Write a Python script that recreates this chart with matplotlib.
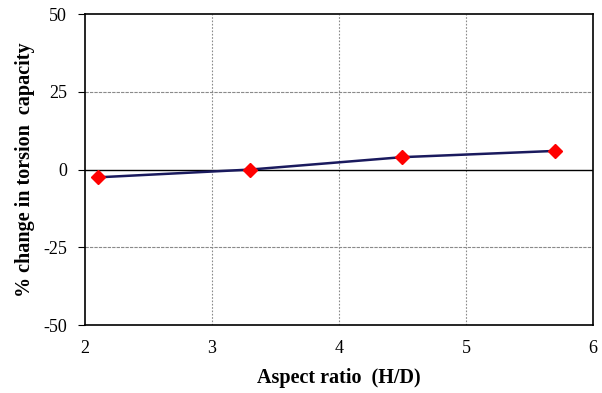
import matplotlib
matplotlib.use("Agg")
import matplotlib.pyplot as plt

aspect_ratio = [2.1, 3.3, 4.5, 5.7]
pct_change = [-2.5, 0.0, 4.0, 6.0]
x_ticks = [2, 3, 4, 5, 6]
y_ticks = [-50, -25, 0, 25, 50]

plt.rcParams["font.family"] = ["Liberation Serif", "DejaVu Serif"]
plt.rcParams["axes.unicode_minus"] = False

fig = plt.figure(figsize=(6.02, 3.93), dpi=100)
ax = fig.add_axes([0.141, 0.173, 0.844, 0.791])

ax.set_xlim(2, 6)
ax.set_ylim(-50, 50)
ax.set_xticks(x_ticks)
ax.set_yticks(y_ticks)

# grid lines
for xv in [3, 4, 5]:
    ax.axvline(xv, color="#8a8a8a", lw=0.8, ls=(0, (1.5, 1.5)), zorder=1)
for yv in [25, -25]:
    ax.axhline(yv, color="#8a8a8a", lw=0.8, ls=(0, (3, 1)), zorder=1)
ax.axhline(0, color="black", lw=1.0, zorder=2)

ax.plot(aspect_ratio, pct_change, color="#1a1a5e", lw=1.8, zorder=3)
ax.plot(aspect_ratio, pct_change, ls="none", marker="D", ms=7,
        color="red", mec="red", zorder=4)

for s in ax.spines.values():
    s.set_linewidth(1.2)
    s.set_color("black")

ax.tick_params(axis="y", length=5, width=0.8, labelsize=13, pad=8)
ax.tick_params(axis="x", length=0, labelsize=13, pad=11)

ax.set_xlabel("Aspect ratio  (H/D)", fontsize=14.5, fontweight="bold", labelpad=8)
ax.set_ylabel("% change in torsion  capacity", fontsize=14.5, fontweight="bold", labelpad=6)

fig.savefig("out.png", dpi=100)
